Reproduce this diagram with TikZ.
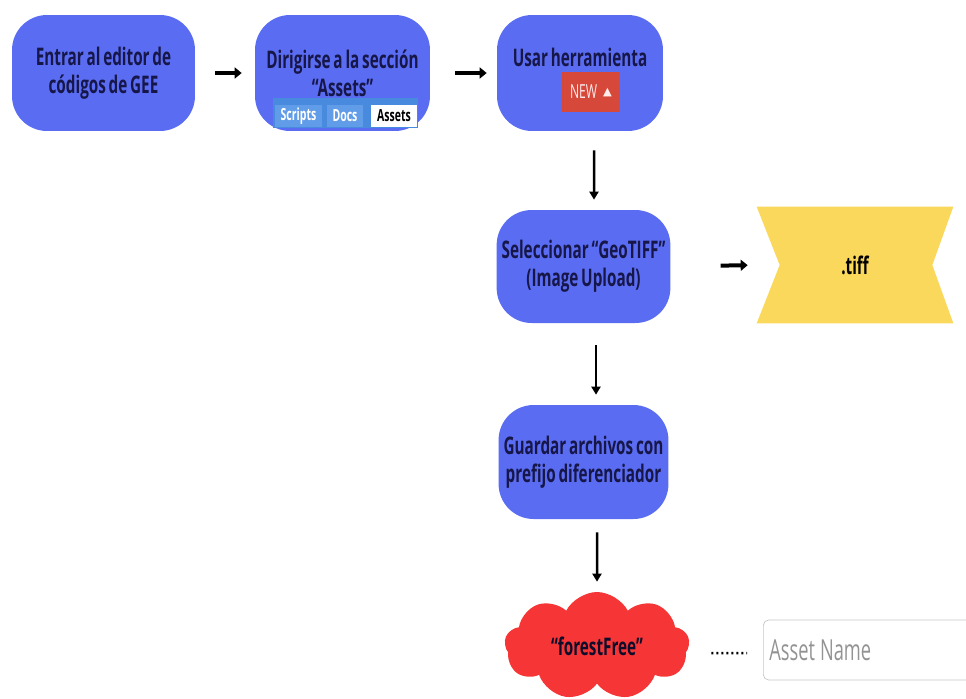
\documentclass[tikz,border=0pt]{standalone}
\usepackage{fontspec}
\usepackage{tikz}
\usetikzlibrary{arrows.meta,shapes.symbols,backgrounds}
\newfontfamily\boxfont{Open Sans}[FakeStretch=0.63, WordSpace=0.7]
\newfontfamily\symfont{DejaVu Sans}

\definecolor{boxblue}{RGB}{90,109,242}
\definecolor{boxtext}{RGB}{22,22,72}
\definecolor{tabblue}{RGB}{72,138,222}
\definecolor{tablight}{RGB}{96,156,232}
\definecolor{newred}{RGB}{214,72,58}
\definecolor{tiffyellow}{RGB}{250,216,92}
\definecolor{cloudred}{RGB}{246,54,54}

\begin{document}
\begin{tikzpicture}[x=0.02cm, y=-0.02cm,
    step box/.style={rectangle, rounded corners=0.7cm, fill=boxblue,
        minimum height=2.32cm, inner xsep=0.1cm, text=boxtext, align=center,
        font=\boxfont\bfseries\fontsize{13.8}{16}\selectfont},
    tab/.style={minimum height=0.44cm, inner sep=0pt, text=white,
        font=\boxfont\bfseries\fontsize{9.5}{11}\selectfont},
    flow/.style={-{Triangle[length=0.16cm,width=0.18cm]}, line width=0.05cm},
    flow side/.style={-{Triangle[length=0.14cm,width=0.22cm]}, line width=0.08cm}]
    \clip (0,0) rectangle (966,698);

    \node[step box, minimum width=3.66cm] (box1) at (103.5,73)
        {Entrar al editor de\\c\'odigos de GEE};
    \node[step box, minimum width=3.5cm] (box2) at (342.5,73)
        {Dirigirse a la secci\'on\\“Assets”};
    \node[step box, minimum width=3.32cm] (box3) at (580,73) {};
    \node[step box, minimum width=3.34cm, minimum height=2.26cm] (box4) at (583.5,266.5)
        {Seleccionar “GeoTIFF”\\(Image Upload)};
    \node[step box, minimum width=3.34cm, minimum height=2.28cm] (box5) at (583.5,462)
        {Guardar archivos con\\prefijo diferenciador};

    % tabs inside box2
    \node[fill=tabblue, minimum width=2.9cm, minimum height=0.6cm, inner sep=0pt] (tabs) at (345.5,113) {};
    \node[tab, fill=tablight, minimum width=0.94cm] (scripts) at (298.5,116) {Scripts};
    \node[tab, fill=tablight, minimum width=0.72cm] (docs) at (345,116) {Docs};
    \node[tab, fill=white, text=black, minimum width=0.92cm] (assets) at (394,116) {Assets};

    % box3 contents
    \node[text=boxtext, font=\boxfont\bfseries\fontsize{13.8}{16}\selectfont] (box3 title) at (580,57) {Usar herramienta};
    \node[fill=newred, text=white!92!red, minimum width=1.16cm, minimum height=0.8cm, inner sep=0pt,
        font=\boxfont\fontsize{11}{12}\selectfont] (new) at (591,92)
        {NEW\hspace{0.12cm}\raisebox{0.3ex}{\symfont\fontsize{6.5}{7}\selectfont ▲}};

    % file type
    \node[minimum width=3.92cm, minimum height=2.32cm, text=black,
        font=\boxfont\bfseries\fontsize{13.8}{16}\selectfont] (tiff) at (855,265) {.tiff};
    \begin{scope}[on background layer]
        \fill[tiffyellow] (tiff.north west) -- (tiff.north east)
            -- ([xshift=-0.42cm]tiff.east) -- (tiff.south east)
            -- (tiff.south west) -- ([xshift=0.46cm]tiff.west) -- cycle;
    \end{scope}

    % asset name
    \node[cloud, cloud puffs=9, cloud puff arc=125, cloud ignores aspect, fill=cloudred,
        minimum width=3.7cm, minimum height=2.16cm, text=boxtext!60!black,
        font=\boxfont\bfseries\fontsize{13.8}{16}\selectfont] (cloud) at (597,646) {“forestFree”};
    \node[draw=gray!45, rounded corners=3pt, anchor=west, minimum height=1.2cm,
        text width=4.2cm, inner xsep=0.12cm, align=left, text=gray!85,
        font=\boxfont\fontsize{16.5}{18}\selectfont] (asset) at (763,650) {Asset\hspace{0.1cm}Name};

    \path[flow side]
        (box1) edge[shorten <=0.4cm, shorten >=0.26cm] (box2)
        (box2) edge[shorten <=0.5cm, shorten >=0.2cm] (box3)
        (box4.east) edge[shorten <=1cm, shorten >=0.18cm] (tiff.west)
    ;
    \path[flow]
        ([xshift=0.28cm]box3.south) edge[shorten <=0.38cm, shorten >=0.2cm] ([xshift=0.21cm]box4.north)
        ([xshift=0.25cm]box4.south) edge[shorten <=0.44cm, shorten >=0.2cm] ([xshift=0.25cm]box5.north)
        ([xshift=0.27cm]box5.south) edge[shorten <=0.26cm, shorten >=0.2cm] (cloud.north)
    ;
    \draw[line width=0.05cm, dash pattern=on 0.04cm off 0.06cm, shorten <=0.44cm, shorten >=0.32cm]
        ([yshift=-0.14cm]cloud.east) -- ([yshift=-0.06cm]asset.west);
\end{tikzpicture}
\end{document}
